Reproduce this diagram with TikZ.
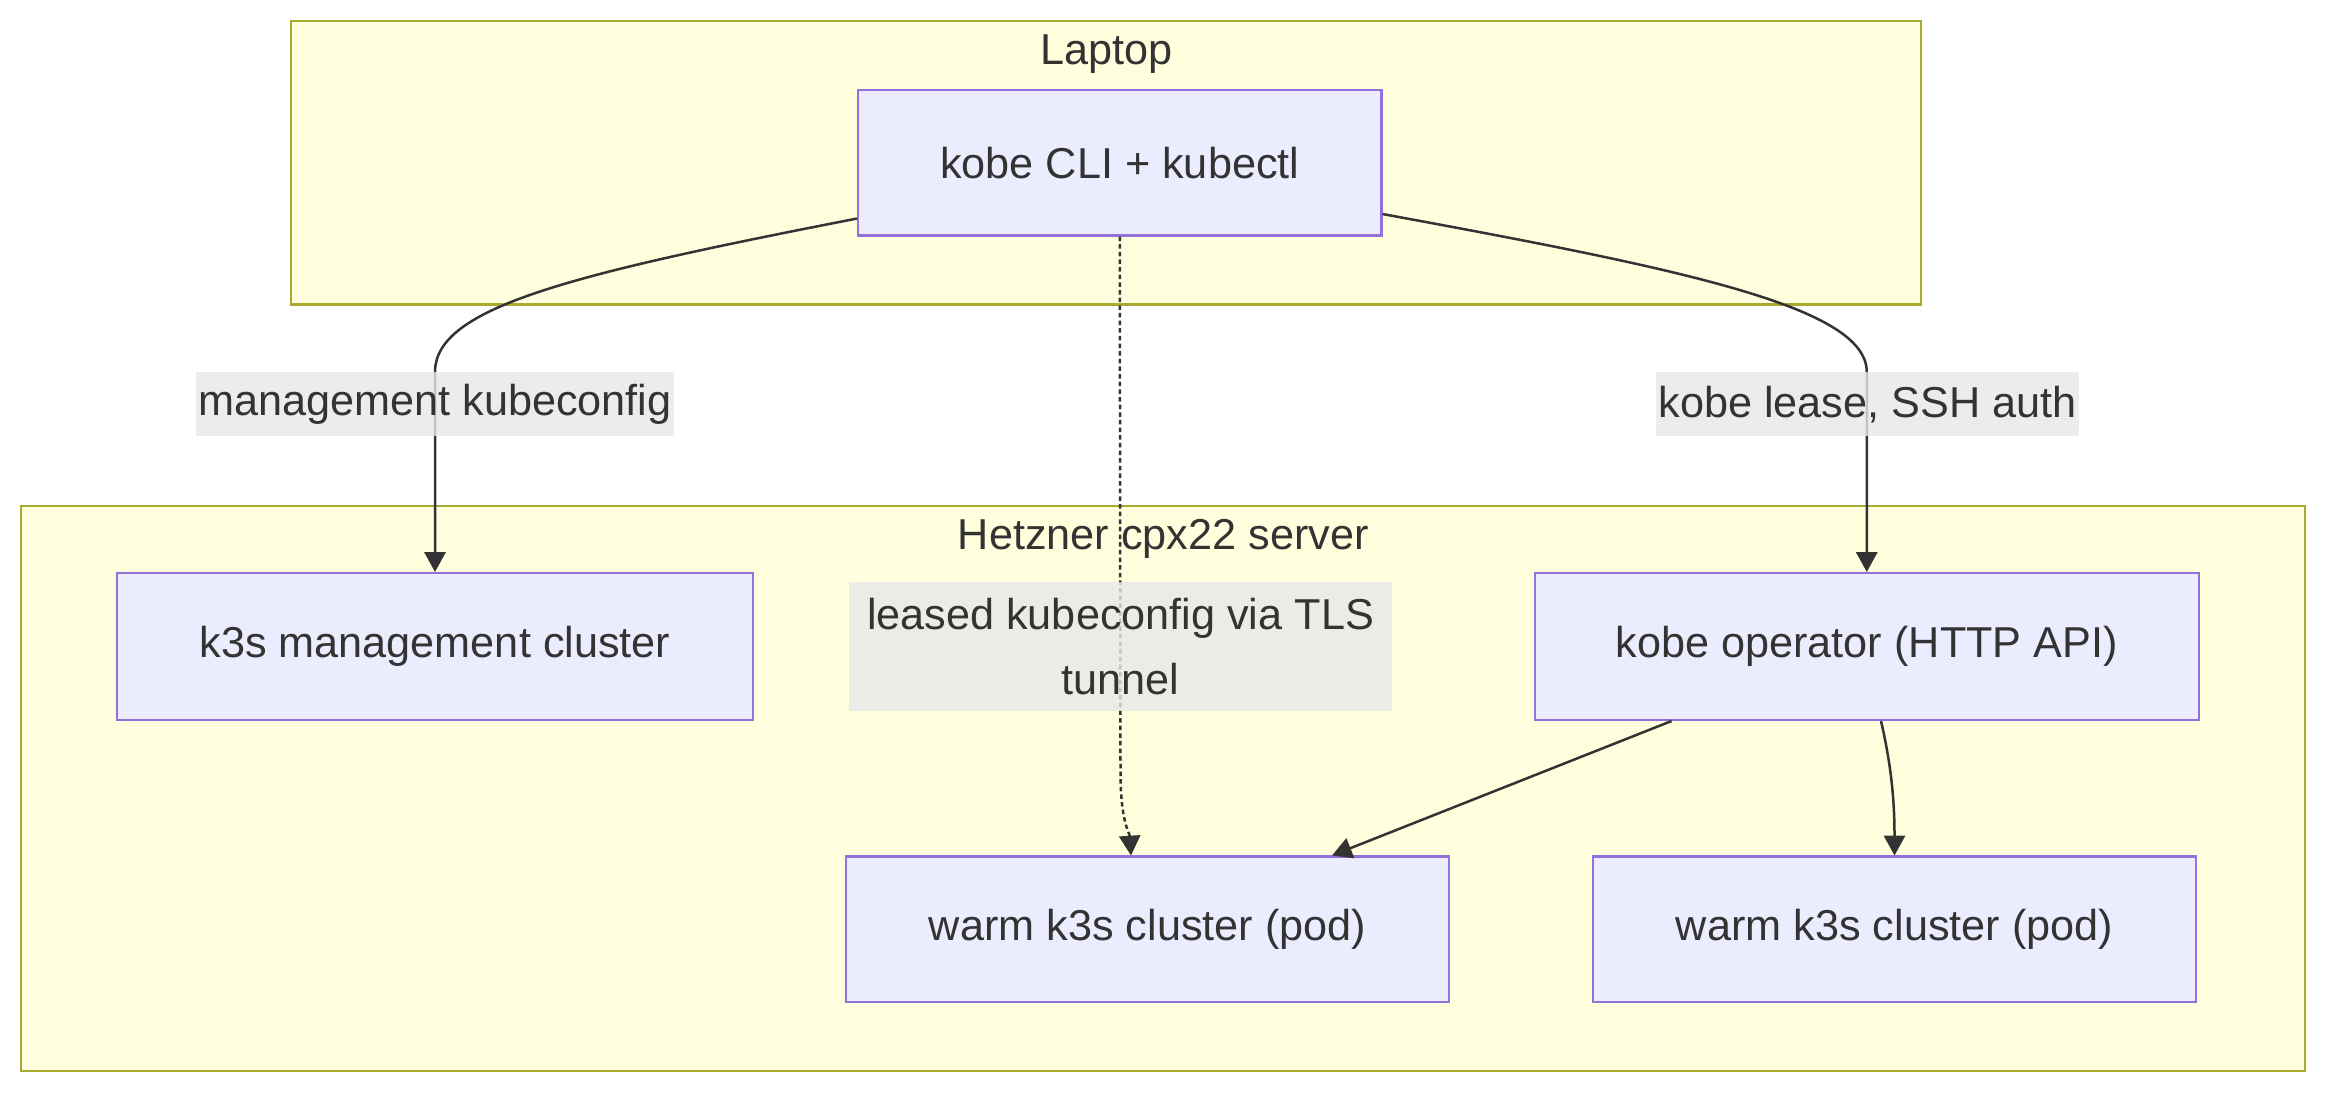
\documentclass[tikz,border=0pt]{standalone}
\usepackage{fontspec}
\setmainfont{Liberation Sans}
\usetikzlibrary{arrows.meta,positioning,calc}
\definecolor{ink}{HTML}{333333}
\definecolor{nodefill}{HTML}{ECECFF}
\definecolor{nodeline}{HTML}{9370DB}
\definecolor{clusfill}{HTML}{FFFFDE}
\definecolor{clusline}{HTML}{AAAA33}
\definecolor{lblfill}{HTML}{E8E8E8}
\tikzset{
  box/.style={draw=nodeline,fill=nodefill,line width=0.8pt,align=center,text=ink,
    inner sep=0pt,minimum height=1.94cm,font=\fontsize{16.4pt}{19.6pt}\selectfont},
  clus/.style={draw=clusline,fill=clusfill,line width=0.8pt,inner sep=0pt},
  clustitle/.style={text=ink,inner sep=0pt,font=\fontsize{16.4pt}{19.6pt}\selectfont},
  lbl/.style={fill=lblfill,fill opacity=0.8,text opacity=1,text=ink,inner xsep=1pt,
    inner ysep=0pt,minimum height=0.86cm,align=center,font=\fontsize{16.4pt}{24.5pt}\selectfont},
  arr/.style={-{Triangle[length=7.5pt,width=8pt]},line width=0.95pt,draw=ink},
  dotline/.style={dash pattern=on 1.7pt off 1.2pt},
}
\begin{document}
\begin{tikzpicture}[x=0.02cm,y=-0.02cm]
    \useasboundingbox[fill=white] (0,0) rectangle (1568,736);
    \node[clus,minimum width=21.74cm,minimum height=3.78cm] (laptop) at (737.5,108.5) {};
    \node[clustitle] (laptopTitle) at ($(laptop.north)+(0,23)$) {Laptop};
    \node[clus,minimum width=30.46cm,minimum height=7.54cm] (hetzner) at (775.5,525.5) {};
    \node[clustitle] (hetznerTitle) at ($(hetzner.north)+(0,23)$) {Hetzner cpx22 server};

    \node[box,minimum width=6.98cm] (cli) at (746.5,108.5) {kobe CLI + kubectl};
    \node[box,minimum width=8.48cm,minimum height=1.96cm] (mgmt) at (290,431) {k3s management cluster};
    \node[box,minimum width=8.86cm,minimum height=1.96cm] (op) at (1244.5,431) {kobe operator (HTTP API)};
    \node[box,minimum width=8.04cm] (warmA) at (765,619.5) {warm k3s cluster (pod)};
    \node[box,minimum width=8.04cm] (warmB) at (1263,619.5) {warm k3s cluster (pod)};

    \coordinate (mgmtIn) at (290,248);
    \coordinate (opIn) at (1244.5,248);
    \draw[arr] ($(cli.south west)+(0,-12)$) .. controls (380,183) and (290,205) .. (mgmtIn) -- (mgmt.north);
    \draw[arr] ($(cli.south east)+(0,-15)$) .. controls (1125,180) and (1244.5,205) .. (opIn) -- (op.north);
    \draw[arr,dotline] (cli.south) -- (747,515) .. controls (747,548) and (753,555) .. ($(warmA.north)+(-11,0)$);
    \draw[arr] ($(op.south west)+(92,0)$) -- ($(warmA.north)+(123,0)$);
    \draw[arr] ($(op.south)+(9.5,0)$) .. controls (1262,515) and (1263,540) .. (warmB.north);

    \node[lbl] (lblMgmt) at (290,269.5) {management kubeconfig};
    \node[lbl] (lblLease) at (1245,269.5) {kobe lease, SSH auth};
    \node[lbl,minimum width=7.24cm,minimum height=1.72cm] (lblTls) at (747,431) {leased kubeconfig via TLS\hspace{4.5pt}\\tunnel};
  \end{tikzpicture}
\end{document}
